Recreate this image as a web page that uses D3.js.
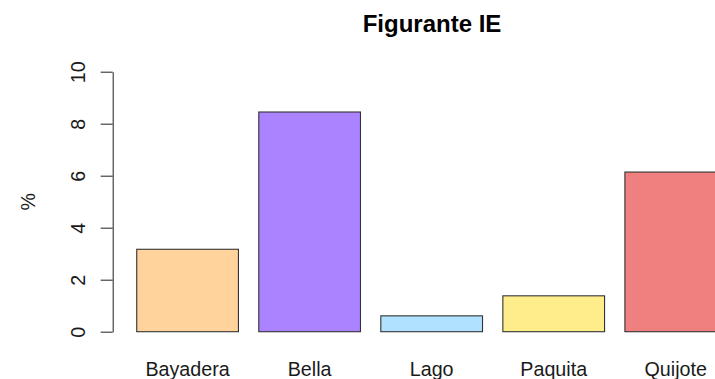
<!DOCTYPE html>
<html>
<head>
<meta charset="utf-8">
<script src="https://cdn.jsdelivr.net/npm/d3@7"></script>
<style>
  html, body { margin: 0; padding: 0; background: #fff; }
  svg { display: block; font-family: "Liberation Sans", Arial, Helvetica, sans-serif; }
</style>
</head>
<body>
<svg id="chart" width="715" height="379"></svg>
<script>
// Ballet titles and share of "Figurante IE" per title (%)
const categories = ["Bayadera", "Bella", "Lago", "Paquita", "Quijote"];
const values = [3.17, 8.45, 0.61, 1.38, 6.14];
const colors = ["#FFD39B", "#AB82FF", "#B0E2FF", "#FFEC8B", "#F08080"];
const yTicks = [0, 2, 4, 6, 8, 10];
const title = "Figurante IE";
const yLabel = "%";

const svg = d3.select("#chart");

// Bars are 1 unit wide with 0.2 unit gaps, like a base-R barplot
const barWidth = 1, gap = 0.2;
const x = d3.scaleLinear().domain([0, 6]).range([116.4, 116.4 + 6 * 101.7]);
const y = d3.scaleLinear().domain([0, 10]).range([331.7, 71.7]);

// Bars
svg.append("g")
  .selectAll("rect")
  .data(values)
  .join("rect")
  .attr("x", (d, i) => x(gap + i * (barWidth + gap)))
  .attr("width", (d, i) => x(gap + i * (barWidth + gap) + barWidth) - x(gap + i * (barWidth + gap)))
  .attr("y", d => y(d))
  .attr("height", d => y(0) - y(d))
  .attr("fill", (d, i) => colors[i])
  .attr("stroke", "#333")
  .attr("stroke-width", 1.1);

// Category labels under each bar
svg.append("g")
  .selectAll("text")
  .data(categories)
  .join("text")
  .attr("x", (d, i) => x(gap + i * (barWidth + gap) + barWidth / 2))
  .attr("y", 376)
  .attr("text-anchor", "middle")
  .attr("font-size", "19.7px")
  .attr("fill", "#1a1a1a")
  .text(d => d);

// Y axis with rotated tick labels
const yAxis = d3.axisLeft(y).tickValues(yTicks).tickSize(12).tickPadding(0).tickSizeOuter(0);
const ag = svg.append("g")
  .attr("transform", "translate(112.7,0)")
  .call(yAxis);
ag.select(".domain").attr("stroke", "#333").attr("stroke-width", 1.1);
ag.selectAll(".tick line").attr("stroke", "#333").attr("stroke-width", 1.1);
ag.selectAll(".tick text")
  .attr("x", 0).attr("y", 0).attr("dy", null)
  .attr("text-anchor", "middle")
  .attr("transform", "translate(-27.7,0) rotate(-90)")
  .attr("font-size", "19.7px")
  .attr("font-family", "'Liberation Sans', Arial, sans-serif")
  .attr("fill", "#1a1a1a");

// Y axis title
svg.append("text")
  .attr("transform", `translate(35,${(y(0) + y(10)) / 2}) rotate(-90)`)
  .attr("text-anchor", "middle")
  .attr("font-size", "19.7px")
  .attr("fill", "#1a1a1a")
  .text(yLabel);

// Main title
svg.append("text")
  .attr("x", 432)
  .attr("y", 31.5)
  .attr("text-anchor", "middle")
  .attr("font-size", "24px")
  .attr("font-weight", "bold")
  .attr("fill", "#000")
  .text(title);
</script>
</body>
</html>
